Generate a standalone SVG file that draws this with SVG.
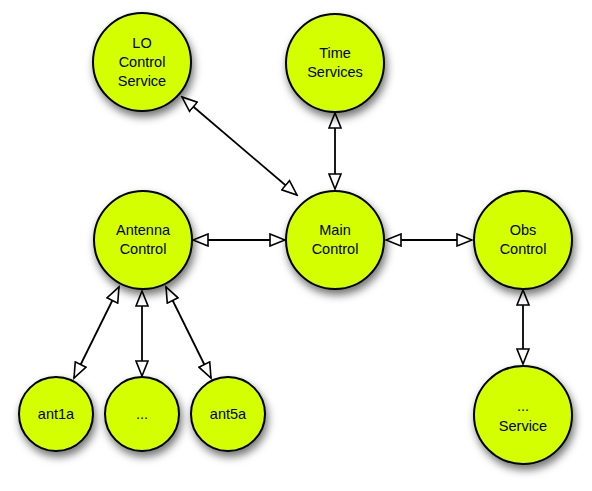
<svg xmlns="http://www.w3.org/2000/svg" width="592" height="491" viewBox="0 0 592 491">
<defs>
<filter id="sh" x="-30%" y="-30%" width="170%" height="170%">
<feDropShadow dx="2" dy="5" stdDeviation="4" flood-color="#000" flood-opacity="0.55"/>
</filter>
<marker id="ah" markerUnits="userSpaceOnUse" markerWidth="18" markerHeight="14" refX="16" refY="7" orient="auto-start-reverse" viewBox="0 0 18 14">
<path d="M1,1 L16,7 L1,13 Z" fill="#fff" stroke="#000" stroke-width="1.6" stroke-linejoin="miter"/>
</marker>
<style>
.n{fill:#d4ff00;stroke:#000;stroke-width:2;filter:url(#sh)}
.t{font-family:"Liberation Sans",Arial,sans-serif;font-size:14.5px;fill:#000;text-anchor:middle}
.c line{stroke:#000;stroke-width:1.8;marker-start:url(#ah);marker-end:url(#ah)}
</style>
</defs>
<rect width="592" height="491" fill="#fff"/>
<g class="c" id="connectors">
<line x1="182" y1="97" x2="297" y2="195"/>
<line x1="335" y1="113" x2="335" y2="189"/>
<line x1="193" y1="240" x2="285" y2="240"/>
<line x1="386" y1="240" x2="472" y2="240"/>
<line x1="523" y1="290" x2="523" y2="364"/>
<line x1="119" y1="287" x2="74" y2="378"/>
<line x1="142" y1="291" x2="142" y2="376"/>
<line x1="166" y1="287" x2="211" y2="378"/>
</g>
<g id="lo"><circle class="n" cx="142" cy="62" r="49"/><text class="t" x="142" y="48">LO</text><text class="t" x="142" y="67">Control</text><text class="t" x="142" y="86">Service</text></g>
<g id="time"><circle class="n" cx="335" cy="63" r="49"/><text class="t" x="335" y="58">Time</text><text class="t" x="335" y="77">Services</text></g>
<g id="antenna"><circle class="n" cx="143" cy="240" r="49"/><text class="t" x="143" y="235">Antenna</text><text class="t" x="143" y="254">Control</text></g>
<g id="main"><circle class="n" cx="335" cy="240" r="49"/><text class="t" x="335" y="235">Main</text><text class="t" x="335" y="254">Control</text></g>
<g id="obs"><circle class="n" cx="523" cy="240" r="49"/><text class="t" x="523" y="235">Obs</text><text class="t" x="523" y="254">Control</text></g>
<g id="service"><circle class="n" cx="523" cy="415" r="49"/><text class="t" x="523" y="411">...</text><text class="t" x="523" y="431">Service</text></g>
<g id="ant1a"><circle class="n" cx="56" cy="414" r="37"/><text class="t" x="56" y="419">ant1a</text></g>
<g id="antdots"><circle class="n" cx="142" cy="414" r="37"/><text class="t" x="142" y="419">...</text></g>
<g id="ant5a"><circle class="n" cx="228" cy="414" r="37"/><text class="t" x="228" y="419">ant5a</text></g>
</svg>
